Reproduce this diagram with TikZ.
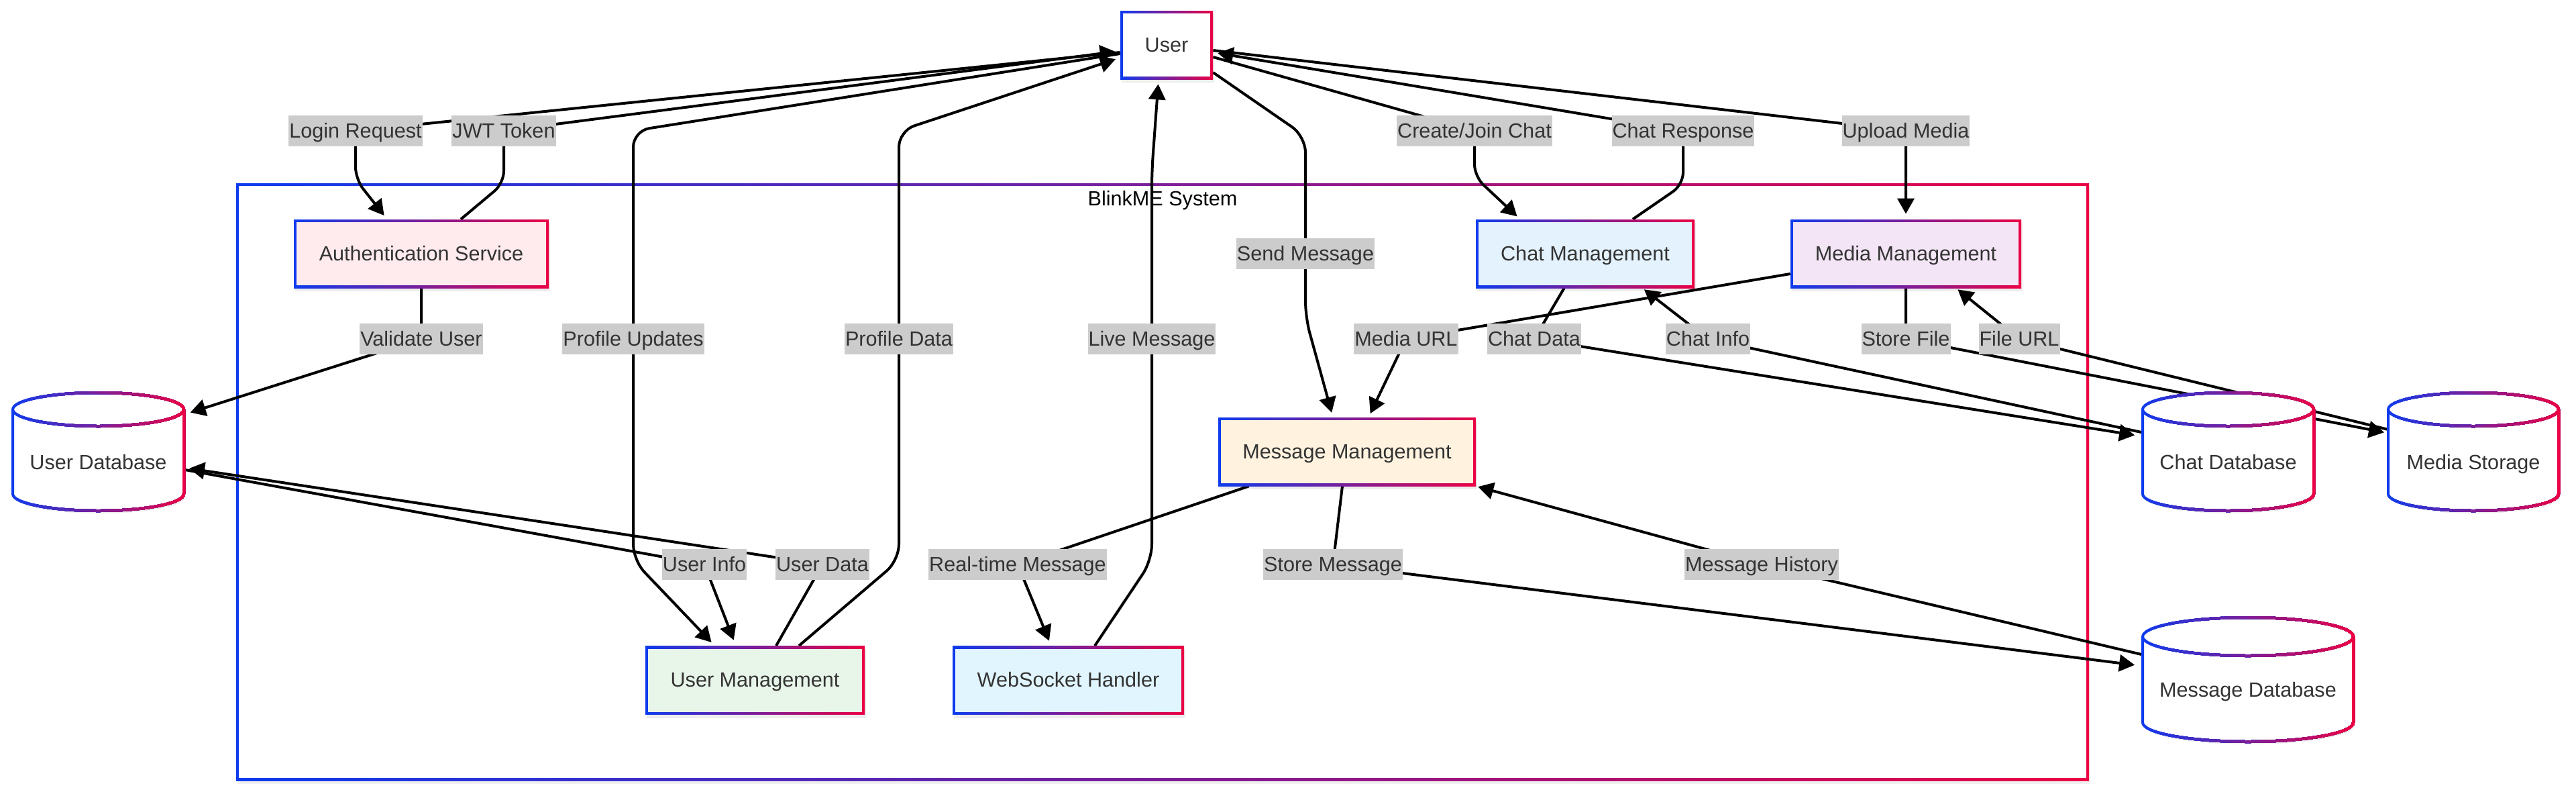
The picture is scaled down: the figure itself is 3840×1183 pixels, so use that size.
\documentclass[tikz,border=0pt]{standalone}
\usepackage{fontspec}
\setmainfont{Liberation Sans}
\usetikzlibrary{arrows.meta,calc}
\definecolor{gblue}{RGB}{13,59,238}
\definecolor{gred}{RGB}{235,0,68}
\definecolor{txtc}{HTML}{333333}
\definecolor{lblgrey}{HTML}{CCCCCC}
\definecolor{fauth}{HTML}{FFEBEE}
\definecolor{fchat}{HTML}{E3F2FD}
\definecolor{fmedia}{HTML}{F3E5F5}
\definecolor{fmsg}{HTML}{FFF3E0}
\definecolor{fum}{HTML}{E8F5E9}
\definecolor{fws}{HTML}{E1F5FE}
\pgfdeclarelayer{bg}
\pgfdeclarelayer{edges}
\pgfdeclarelayer{cyl}
\pgfsetlayers{bg,edges,cyl,main}
\newcommand\dfont{\fontsize{15.3pt}{18pt}\selectfont}
% cylinder: #1 cx, #2 yt, #3 yb, #4 rx, #5 ry
\newcommand\dbcyl[5]{%
  \fill[black,opacity=0.07] (#1-#4+2,#2+4) -- (#1-#4+2,#3+4) arc[start angle=180,end angle=0,x radius=#4,y radius=#5] -- (#1+#4+2,#2+4) arc[start angle=0,end angle=-180,x radius=#4,y radius=#5] -- cycle;
  \fill[white] (#1-#4,#2) -- (#1-#4,#3) arc[start angle=180,end angle=0,x radius=#4,y radius=#5] -- (#1+#4,#2) arc[start angle=0,end angle=-180,x radius=#4,y radius=#5] -- cycle;
  \foreach \i in {0,...,47}{%
    \pgfmathsetmacro\xa{#1-#4-3+(2*#4+6)*\i/48}%
    \pgfmathtruncatemacro\pc{100-100*\i/47}%
    \begin{scope}
      \clip (\xa,#2-#5-10) rectangle (#1+#4+10,#3+#5+10);
      \draw[line width=2pt, draw=gblue!\pc!gred, line join=round]
        (#1-#4,#2) -- (#1-#4,#3) arc[start angle=180,end angle=0,x radius=#4,y radius=#5]
        -- (#1+#4,#2) arc[start angle=0,end angle=-180,x radius=#4,y radius=#5] -- cycle
        (#1-#4,#2) arc[start angle=180,end angle=0,x radius=#4,y radius=#5];
    \end{scope}}%
}
\newcommand\boxshadow[1]{%
  \fill[black,opacity=0.07] ([shift={(1pt,-2.5pt)}]#1.south west) rectangle ([shift={(1pt,-2.5pt)}]#1.north east);}
\begin{document}
\begin{tikzpicture}[x=0.5pt,y=-0.5pt,
  gbox/.style={rectangle, inner sep=0pt, minimum height=51pt, text=txtc, font=\dfont,
    text height=11pt, text depth=1pt,
    path picture={
      \shade[left color=gblue,right color=gred] (path picture bounding box.south west) rectangle (path picture bounding box.north east);
      \fill[#1] ([shift={(2pt,2pt)}]path picture bounding box.south west) rectangle ([shift={(-2pt,-2pt)}]path picture bounding box.north east);}},
  lbl/.style={fill=lblgrey, text=txtc, font=\dfont, inner xsep=0.5pt, inner ysep=0pt,
    minimum height=23pt, text height=11pt, text depth=1pt},
  cyltxt/.style={text=txtc, font=\dfont, inner sep=0pt, text height=11pt, text depth=1pt},
  conn/.style={draw=black, line width=2pt, rounded corners=9pt, line join=round},
  arr/.style={-{Triangle[length=11.5pt,width=12.5pt]}},
]
\useasboundingbox (0,0) rectangle (3840,1183);
\begin{pgfonlayer}{bg}
  \fill[white] (0,0) rectangle (3840,1183);
  \fill[black,opacity=0.06] (354,278) rectangle (3116,1168);
  \node[gbox=white, minimum width=1381pt, minimum height=445pt] (sys) at (1733,718) {};
\end{pgfonlayer}
\node[cyltxt, text=black] (systitle) at ($(sys.north)+(0,24)$) {BlinkME System};

% main boxes
\node[gbox=white, minimum width=69pt] (user) at (1739,67) {User};
\node[gbox=fauth, minimum width=190pt] (auth) at (628,378) {Authentication Service};
\node[gbox=fchat, minimum width=163pt] (chat) at (2363,378) {Chat Management};
\node[gbox=fmedia, minimum width=172pt] (media) at (2841,378) {Media Management};
\node[gbox=fmsg, minimum width=192pt] (msg) at (2008,673) {Message Management};
\node[gbox=fum, minimum width=163.5pt] (um) at (1125.5,1013.5) {User Management};
\node[gbox=fws, minimum width=172.5pt] (ws) at (1592.5,1013.5) {WebSocket Handler};
\begin{pgfonlayer}{bg}
  \boxshadow{user}\boxshadow{auth}\boxshadow{chat}\boxshadow{media}
  \boxshadow{msg}\boxshadow{um}\boxshadow{ws}
\end{pgfonlayer}

% cylinders
\begin{pgfonlayer}{cyl}
  \dbcyl{146.5}{610}{736}{127.5}{25}
  \dbcyl{3321.5}{610}{736}{127.5}{25}
  \dbcyl{3687}{610}{736}{127}{25}
  \dbcyl{3351}{948.5}{1076.5}{157}{28.5}
\end{pgfonlayer}
\node[cyltxt] (userdb) at (146.5,689) {User Database};
\node[cyltxt] (chatdb) at (3321.5,689) {Chat Database};
\node[cyltxt] (mediast) at (3687,689) {Media Storage};
\node[cyltxt] (msgdb) at (3351,1028) {Message Database};

% labels
\node[lbl] (lLogin) at (530,195) {Login Request};
\node[lbl] (lJWT) at (751,195) {JWT Token};
\node[lbl] (lCreate) at (2198,195) {Create/Join Chat};
\node[lbl] (lResp) at (2509,195) {Chat Response};
\node[lbl] (lUpload) at (2841,195) {Upload Media};
\node[lbl] (lSend) at (1946,378) {Send Message};
\node[lbl] (lValidate) at (628,505) {Validate User};
\node[lbl] (lPUpd) at (944,505) {Profile Updates};
\node[lbl] (lPData) at (1340,505) {Profile Data};
\node[lbl] (lLive) at (1717,505) {Live Message};
\node[lbl] (lMURL) at (2096,505) {Media URL};
\node[lbl] (lCData) at (2287,505) {Chat Data};
\node[lbl] (lCInfo) at (2546,505) {Chat Info};
\node[lbl] (lStoreF) at (2841,505) {Store File};
\node[lbl] (lFURL) at (3010,505) {File URL};
\node[lbl] (lUInfo) at (1050,841) {User Info};
\node[lbl] (lUData) at (1226,841) {User Data};
\node[lbl] (lRT) at (1517,841) {Real-time Message};
\node[lbl] (lStoreM) at (1987,841) {Store Message};
\node[lbl] (lHist) at (2626,841) {Message History};

\begin{pgfonlayer}{edges}
% Login Request
\draw[conn,arr,shorten >=3.5pt] ($(user.west)+(0,11)$) -- (lLogin.center) -- ($(lLogin.center)+(0,72)$) -- ($(auth.north)+(-51,0)$);
% JWT Token
\draw[conn,arr,shorten >=3.5pt] ($(auth.north)+(59,0)$) -- ($(lJWT.center)+(0,78)$) -- (lJWT.center) -- ($(user.west)+(0,9)$);
% Profile Updates
\draw[conn,arr,shorten >=3.5pt,rounded corners=12pt] ($(user.west)+(0,13)$) -- ($(lPUpd.center)+(0,-310)$) -- ($(lPUpd.center)+(0,330)$) -- ($(um.north)+(-60,0)$);
% Profile Data
\draw[conn,arr,shorten >=3.5pt,rounded corners=12pt] ($(um.north)+(65.5,0)$) -- ($(lPData.center)+(0,330)$) -- ($(lPData.center)+(0,-310)$) -- ($(user.west)+(0,19)$);
% Live Message
\draw[conn,arr,shorten >=3.5pt,rounded corners=12pt] ($(ws.north)+(39.5,0)$) -- ($(lLive.center)+(0,330)$) -- ($(lLive.center)+(0,-250)$) -- ($(user.south)+(-12,0)$);
% Send Message
\draw[conn,arr,shorten >=3.5pt,rounded corners=12pt] ($(user.east)+(0,41)$) -- ($(lSend.center)+(0,-175)$) -- ($(lSend.center)+(0,95)$) -- ($(msg.north)+(-21,0)$);
% Create/Join Chat
\draw[conn,arr,shorten >=3pt] ($(user.east)+(0,18)$) -- (lCreate.center) -- ($(lCreate.center)+(0,68)$) -- ($(chat.north)+(-97,0)$);
% Chat Response
\draw[conn,arr,shorten >=3.5pt] ($(chat.north)+(71,0)$) -- ($(lResp.center)+(0,80)$) -- (lResp.center) -- ($(user.east)+(0,11)$);
% Upload Media
\draw[conn,arr,shorten >=4pt] ($(user.east)+(0,8)$) -- (lUpload.center) -- (media.north);
% Validate User
\draw[conn,arr,shorten >=4pt] (auth.south) -- (lValidate.center) -- ($(userdb.center)+(129.5,-72)$);
% User Info
\draw[conn,arr,shorten >=4.5pt] ($(userdb.center)+(129.5,11)$) -- (lUInfo.center) -- ($(um.north)+(-28.5,0)$);
% User Data
\draw[conn,arr,shorten >=3pt] ($(um.north)+(31.5,0)$) -- (lUData.center) -- ($(userdb.center)+(129.5,8)$);
% Real-time Message
\draw[conn,arr,shorten >=4pt] ($(msg.south west)+(46,0)$) -- (lRT.center) -- ($(ws.north)+(-25.5,0)$);
% Store Message
\draw[conn,arr,shorten >=5pt] ($(msg.south)+(-7,0)$) -- (lStoreM.center) -- ($(msgdb.center)+(-159,-36)$);
% Message History
\draw[conn,arr,shorten >=1.5pt] ($(msgdb.center)+(-159,-53)$) -- (lHist.center) -- (msg.south east);
% Media URL
\draw[conn,arr,shorten >=3pt] ($(media.west)+(0,30)$) -- (lMURL.center) -- ($(msg.north)+(32,0)$);
% Chat Data
\draw[conn,arr,shorten >=5pt] ($(chat.south west)+(132,0)$) -- (lCData.center) -- ($(chatdb.center)+(-129.5,-39)$);
% Chat Info
\draw[conn,arr,shorten >=1.5pt] ($(chatdb.center)+(-129.5,-45)$) -- (lCInfo.center) -- ($(chat.south east)+(-78,0)$);
% Store File
\draw[conn,arr,shorten >=2pt] (media.south) -- (lStoreF.center) -- ($(mediast.center)+(-129,-44)$);
% File URL
\draw[conn,arr,shorten >=1.5pt] ($(mediast.center)+(-127,-49)$) -- (lFURL.center) -- ($(media.south)+(75,0)$);
\end{pgfonlayer}
\end{tikzpicture}
\end{document}
